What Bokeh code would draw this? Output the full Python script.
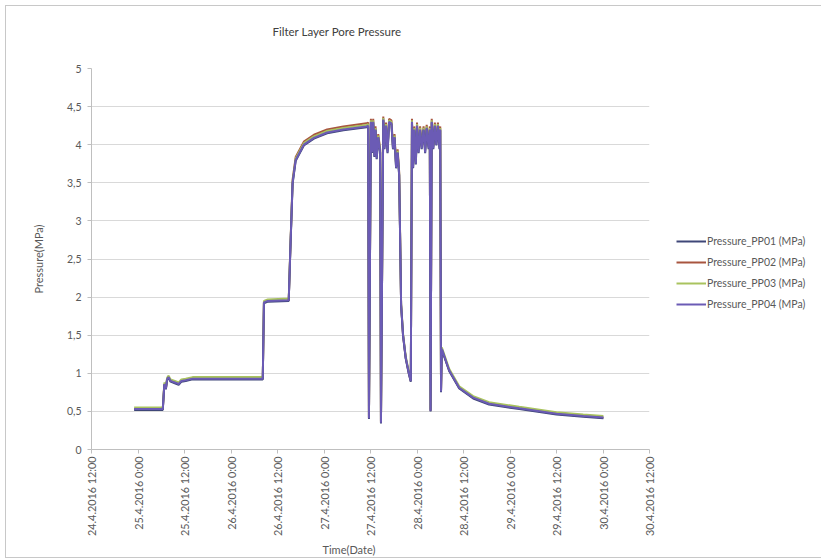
from math import pi
from bokeh.plotting import figure
from bokeh.models import FixedTicker, Legend, LegendItem, Title, Range1d
from bokeh.embed import file_html
from bokeh.resources import INLINE

# hours since 24.4.2016 0:00
TIME_H = [23.0, 30.4, 30.8, 31.2, 31.5, 31.9, 32.4, 33.5, 34.5, 35.2, 36.3, 38.1,
          45.0, 56.2, 56.5, 57.5, 62.9, 63.3, 63.9, 64.7, 66.8, 69.4, 72.8, 77.0,
          83.0, 83.4, 83.6, 84.1, 84.4, 84.7, 85.0, 85.3, 85.6, 86.0, 86.5, 86.7,
          87.3, 87.6, 88.0, 88.4, 88.8, 89.4, 89.8, 90.2, 90.6, 91.0, 91.4, 91.7,
          91.9, 92.4, 93.1, 93.9, 94.4, 94.7, 95.0, 95.3, 95.7, 96.0, 96.4, 96.8,
          97.2, 97.7, 98.1, 98.5, 99.0, 99.3, 99.5, 99.8, 100.2, 100.6, 101.0, 101.4,
          101.8, 102.0, 102.2, 102.4, 104.3, 106.9, 110.5, 114.6, 122.4, 132.0, 138.9, 144.1]

PP01 = [0.52, 0.52, 0.85, 0.79, 0.91, 0.94, 0.89, 0.87, 0.85, 0.89, 0.90, 0.92,
        0.92, 0.92, 1.92, 1.94, 1.95, 2.59, 3.49, 3.79, 3.99, 4.08, 4.15, 4.19,
        4.23, 4.24, 0.40, 4.29, 3.89, 4.29, 3.84, 4.19, 3.81, 4.09, 3.89, 0.34,
        4.32, 3.94, 4.24, 3.89, 4.29, 4.27, 3.94, 4.09, 3.69, 3.89, 3.59, 2.59,
        1.89, 1.49, 1.19, 0.99, 0.89, 4.29, 3.69, 4.19, 3.74, 4.24, 3.89, 4.19,
        3.94, 4.19, 3.89, 4.21, 3.94, 4.19, 0.50, 4.29, 3.94, 4.24, 3.99, 4.24,
        3.94, 4.19, 0.75, 1.31, 1.03, 0.80, 0.67, 0.59, 0.53, 0.46, 0.43, 0.41]

PP02 = [0.53, 0.53, 0.86, 0.80, 0.92, 0.95, 0.90, 0.88, 0.86, 0.90, 0.91, 0.93,
        0.93, 0.93, 1.93, 1.95, 1.96, 2.62, 3.54, 3.84, 4.04, 4.13, 4.20, 4.24,
        4.28, 4.29, 0.41, 4.34, 3.94, 4.34, 3.89, 4.24, 3.86, 4.14, 3.94, 0.35,
        4.37, 3.99, 4.29, 3.94, 4.34, 4.32, 3.99, 4.14, 3.74, 3.94, 3.64, 2.62,
        1.90, 1.50, 1.20, 1.00, 0.90, 4.34, 3.74, 4.24, 3.79, 4.29, 3.94, 4.24,
        3.99, 4.24, 3.94, 4.26, 3.99, 4.24, 0.51, 4.34, 3.99, 4.29, 4.04, 4.29,
        3.99, 4.24, 0.76, 1.32, 1.04, 0.81, 0.68, 0.60, 0.54, 0.47, 0.44, 0.42]

PP03 = [0.55, 0.55, 0.88, 0.82, 0.94, 0.97, 0.92, 0.90, 0.88, 0.92, 0.93, 0.95,
        0.95, 0.95, 1.95, 1.97, 1.98, 2.62, 3.52, 3.82, 4.02, 4.11, 4.18, 4.22,
        4.26, 4.27, 0.43, 4.32, 3.92, 4.32, 3.87, 4.22, 3.84, 4.12, 3.92, 0.37,
        4.35, 3.97, 4.27, 3.92, 4.32, 4.30, 3.97, 4.12, 3.72, 3.92, 3.62, 2.62,
        1.92, 1.52, 1.22, 1.02, 0.92, 4.32, 3.72, 4.22, 3.77, 4.27, 3.92, 4.22,
        3.97, 4.22, 3.92, 4.24, 3.97, 4.22, 0.53, 4.32, 3.97, 4.27, 4.02, 4.27,
        3.97, 4.22, 0.78, 1.34, 1.06, 0.83, 0.70, 0.62, 0.56, 0.49, 0.46, 0.44]

PP04 = [0.53, 0.53, 0.86, 0.80, 0.92, 0.95, 0.90, 0.88, 0.86, 0.90, 0.91, 0.93,
        0.93, 0.93, 1.93, 1.95, 1.96, 2.60, 3.50, 3.80, 4.00, 4.09, 4.16, 4.20,
        4.24, 4.25, 0.41, 4.30, 3.90, 4.30, 3.85, 4.20, 3.82, 4.10, 3.90, 0.35,
        4.33, 3.95, 4.25, 3.90, 4.30, 4.28, 3.95, 4.10, 3.70, 3.90, 3.60, 2.60,
        1.90, 1.50, 1.20, 1.00, 0.90, 4.30, 3.70, 4.20, 3.75, 4.25, 3.90, 4.20,
        3.95, 4.20, 3.90, 4.22, 3.95, 4.20, 0.51, 4.30, 3.95, 4.25, 4.00, 4.25,
        3.95, 4.20, 0.76, 1.32, 1.04, 0.81, 0.68, 0.60, 0.54, 0.47, 0.44, 0.42]

SERIES_NAMES = ["Pressure_PP01 (MPa)", "Pressure_PP02 (MPa)",
                "Pressure_PP03 (MPa)", "Pressure_PP04 (MPa)"]

X_TICKS_H = [12, 24, 36, 48, 60, 72, 84, 96, 108, 120, 132, 144, 156]
X_TICK_LABELS = ["24.4.2016 12:00", "25.4.2016 0:00", "25.4.2016 12:00",
                 "26.4.2016 0:00", "26.4.2016 12:00", "27.4.2016 0:00",
                 "27.4.2016 12:00", "28.4.2016 0:00", "28.4.2016 12:00",
                 "29.4.2016 0:00", "29.4.2016 12:00", "30.4.2016 0:00",
                 "30.4.2016 12:00"]
Y_TICKS = [0, 0.5, 1, 1.5, 2, 2.5, 3, 3.5, 4, 4.5, 5]
Y_TICK_LABELS = ["0", "0,5", "1", "1,5", "2", "2,5", "3", "3,5", "4", "4,5", "5"]

TITLE = "Filter Layer Pore Pressure"
X_LABEL = "Time(Date)"
Y_LABEL = "Pressure(MPa)"

FONT = "Lato"
TXT = "#595959"
COLORS = ["#3f4778", "#a8553f", "#a9c35e", "#6b5bb5"]

p = figure(width=804, height=550, frame_width=558, frame_height=381,
           output_backend="svg", toolbar_location=None,
           x_range=Range1d(12, 156), y_range=Range1d(0, 5),
           min_border_left=85, min_border_right=161, min_border_top=62,
           min_border_bottom=107)
p.outline_line_color = None
p.styles = {"border": "1px solid #c8c8c8", "margin-left": "5px",
            "margin-top": "5px"}

data = {"PP01": PP01, "PP02": PP02, "PP03": PP03, "PP04": PP04}
renderers = {}
for key, col in [("PP02", COLORS[1]), ("PP03", COLORS[2]),
                 ("PP01", COLORS[0]), ("PP04", COLORS[3])]:
    renderers[key] = p.line(TIME_H, data[key], line_color=col, line_width=2)

# axes
p.xaxis.ticker = FixedTicker(ticks=X_TICKS_H)
p.xaxis.major_label_overrides = {t: l for t, l in zip(X_TICKS_H, X_TICK_LABELS)}
p.xaxis.major_label_orientation = pi / 2
p.yaxis.ticker = FixedTicker(ticks=Y_TICKS)
p.yaxis.major_label_overrides = {t: l for t, l in zip(Y_TICKS, Y_TICK_LABELS)}

for ax in (p.xaxis[0], p.yaxis[0]):
    ax.axis_line_color = "#bfbfbf"
    ax.major_tick_line_color = "#bfbfbf"
    ax.major_tick_out = 4
    ax.major_tick_in = 0
    ax.minor_tick_line_color = None
    ax.major_label_text_font = FONT
    ax.major_label_text_font_size = "10.5px"
    ax.major_label_text_color = TXT
p.xaxis.major_label_standoff = 3
p.xaxis.major_label_text_font_size = "10.8px"
p.yaxis.major_label_standoff = 6

p.yaxis.axis_label = Y_LABEL
p.yaxis.axis_label_text_font = FONT
p.yaxis.axis_label_text_font_size = "11px"
p.yaxis.axis_label_text_font_style = "normal"
p.yaxis.axis_label_text_color = TXT
p.yaxis.axis_label_standoff = 19

p.xgrid.grid_line_color = None
p.ygrid.grid_line_color = "#d9d9d9"
p.ygrid.grid_line_width = 1

# title (above) and x-axis label (below), as Title annotations
p.title.text = TITLE
p.title.align = "left"
p.title.offset = 181
p.title.standoff = 26
p.title.padding = dict(left=0, right=0, top=0, bottom=18)
p.title.text_font = FONT
p.title.text_font_size = "11.5px"
p.title.text_font_style = "normal"
p.title.text_color = "#404040"

xlab = Title(text=X_LABEL, align="left", offset=231, standoff=4,
             text_font=FONT, text_font_size="11px", text_font_style="normal",
             text_color=TXT)
p.add_layout(xlab, "below")

items = [LegendItem(label=SERIES_NAMES[i], renderers=[renderers[k]])
         for i, k in enumerate(["PP01", "PP02", "PP03", "PP04"])]
legend = Legend(items=items, location=(27, 138), orientation="vertical",
                glyph_width=30, glyph_height=14, spacing=7, label_standoff=1,
                padding=0, margin=0, border_line_color=None,
                background_fill_alpha=0, label_text_font=FONT,
                label_text_font_size="10.5px", label_text_color=TXT,
                label_height=14)
p.add_layout(legend, "right")

open("out.html", "w").write(file_html(p, INLINE))
